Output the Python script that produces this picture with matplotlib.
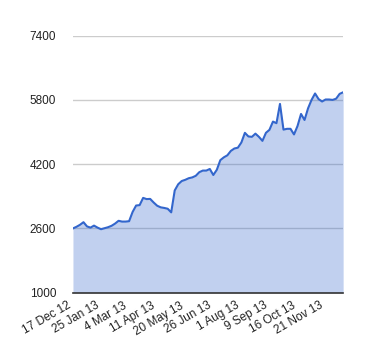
import matplotlib
matplotlib.use('Agg')
import matplotlib.pyplot as plt
import numpy as np

# values, one every ~3.5 px
values = [2600, 2640, 2690, 2755, 2650, 2620, 2670, 2620, 2580, 2605,
          2630, 2665, 2720, 2790, 2770, 2770, 2780, 3010, 3170, 3180,
          3360, 3330, 3335, 3245, 3165, 3125, 3110, 3090, 3000, 3545,
          3700, 3780, 3810, 3850, 3870, 3910, 4000, 4040, 4040, 4080,
          3930, 4060, 4300, 4370, 4420, 4530, 4590, 4610, 4740, 4980,
          4890, 4880, 4960, 4880, 4780, 4980, 5055, 5260, 5220, 5700,
          5060, 5080, 5080, 4940, 5150, 5450, 5300, 5590, 5800, 5960,
          5820, 5760, 5810, 5810, 5800, 5830, 5950, 5990]
tick_labels = ['17 Dec 12', '25 Jan 13', '4 Mar 13', '11 Apr 13', '20 May 13',
               '26 Jun 13', '1 Aug 13', '9 Sep 13', '16 Oct 13', '21 Nov 13']
y_ticks = [1000, 2600, 4200, 5800, 7400]

plt.rcParams['font.family'] = ['Liberation Sans', 'DejaVu Sans']

fig = plt.figure(figsize=(3.8, 3.6), dpi=100)
ax = fig.add_axes([0.192, 0.187, 0.711, 0.714])

x = np.arange(len(values))
ax.fill_between(x, 1000, values, color='#3366cc', alpha=0.3, lw=0, zorder=2)
ax.plot(x, values, color='#3366cc', lw=1.5, zorder=3)

ax.set_xlim(0, len(values) - 1)
ax.set_ylim(1000, 7400)
ax.set_yticks(y_ticks)
ax.set_yticklabels([str(v) for v in y_ticks])
ax.set_xticks(x[::8][:len(tick_labels)])
ax.set_xticklabels(tick_labels, rotation=30, ha='right')

ax.grid(axis='y', color='#cccccc', lw=1, zorder=1)
ax.set_axisbelow(True)
for s in ['top', 'right', 'left']:
    ax.spines[s].set_visible(False)
ax.spines['bottom'].set_color('#333333')
ax.spines['bottom'].set_linewidth(1.2)
ax.spines['bottom'].set_zorder(4)
ax.tick_params(axis='both', length=0, labelsize=8.5, colors='#222222')
ax.tick_params(axis='y', pad=12)
ax.tick_params(axis='x', pad=5)

fig.savefig('out.png', dpi=100, facecolor='white')
